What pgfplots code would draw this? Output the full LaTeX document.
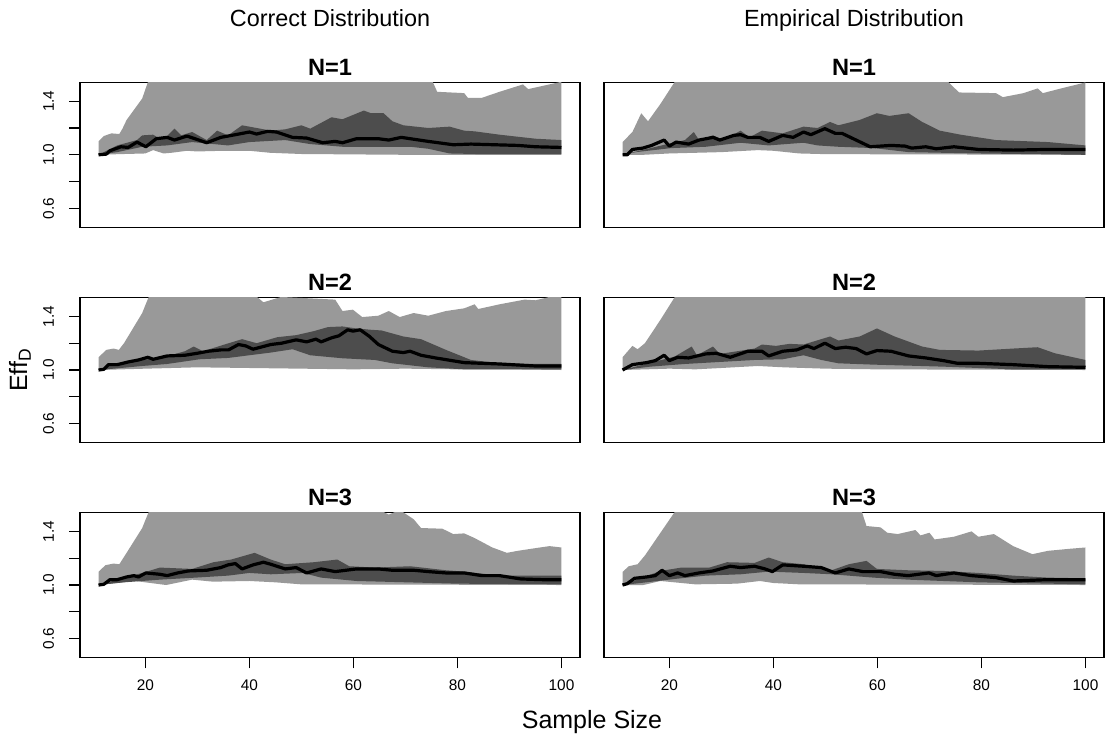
\documentclass[border=0pt]{standalone}
\usepackage{fontspec}
\setmainfont{Liberation Sans}
\usepackage{pgfplots}
\pgfplotsset{compat=1.18}
\definecolor{outerband}{RGB}{153,153,153}
\definecolor{innerband}{RGB}{77,77,77}

\pgfplotsset{
  effpanel/.style={
    scale only axis, width=250pt, height=72.4pt,
    xmin=7.44, xmax=103.56, ymin=0.46, ymax=1.54,
    axis line style={line width=0.6pt},
    tick pos=left, tick align=outside,
    major tick length=5.5pt,
    tick style={line width=0.6pt, black},
    xtick=\empty, ytick=\empty,
    title style={font=\bfseries\fontsize{11.8}{13}\selectfont, at={(0.5,1)}, anchor=base, yshift=-2.5pt},
    ticklabel style={font=\fontsize{7.7}{9}\selectfont},
    anchor=north west,
  },
  leftcol/.style={ytick={0.6,0.8,1.0,1.2,1.4}, yticklabels={0.6,,1.0,,1.4},
    yticklabel style={rotate=90, anchor=south}, yticklabel shift=4pt},
  bottomrow/.style={xtick={20,40,60,80,100}, xticklabels={20,40,60,80,100},
    xticklabel shift=2pt},
  outer/.style={fill=outerband, draw=none},
  inner/.style={fill=innerband, draw=none},
  median/.style={black, line width=1.6pt, line join=round},
}

\begin{document}
\begin{tikzpicture}
\path[use as bounding box] (0,0) rectangle (553.5pt,-372.5pt);

% Correct, N=1
\begin{axis}[effpanel, leftcol, at={(40pt,-41.2pt)}, title={N=1}]
\addplot[outer] coordinates {(11,1.10) (12,1.14) (13.5,1.16) (15,1.155) (15.6,1.195) (16.4,1.26) (19.4,1.42) (21,1.60) (30,1.80) (60,1.80) (74,1.62) (75.3,1.54) (76.1,1.47) (81.3,1.46) (82,1.425) (84.7,1.425) (88.1,1.47) (92.6,1.525) (93.6,1.49) (100,1.545) (100,1.0) (70,1.0) (60,1.003) (50,1.006) (44,1.015) (40,1.03) (35,1.03) (30,1.025) (28,1.03) (25,1.015) (23.5,1.01) (21.5,1.035) (20,1.01) (15,1.005) (11,1.0)} -- cycle;
\addplot[inner] coordinates {(11,1.0) (14.6,1.07) (18.4,1.11) (19.4,1.145) (21.5,1.15) (22.8,1.12) (24.2,1.14) (25.6,1.195) (26.9,1.145) (29,1.17) (31.8,1.11) (33.8,1.18) (35.9,1.145) (38.6,1.22) (41.4,1.20) (44.1,1.18) (46.9,1.19) (50,1.22) (51.7,1.195) (55.8,1.28) (57.9,1.265) (62,1.33) (63.4,1.31) (65.8,1.31) (67.5,1.25) (69.6,1.22) (74.4,1.20) (78.5,1.21) (81.3,1.18) (83.3,1.175) (88.1,1.15) (95,1.12) (100,1.11) (100,1.005) (84.7,1.005) (78.5,1.01) (74.4,1.045) (70.9,1.06) (63.4,1.06) (57.9,1.06) (51.7,1.08) (46.9,1.11) (40,1.095) (35.9,1.07) (29,1.095) (24.2,1.07) (19.4,1.06) (14.6,1.02) (11,1.0)} -- cycle;
\addplot[median] coordinates {(11,1.0) (12.5,1.005) (13.2,1.03) (15.3,1.06) (16.7,1.055) (18.4,1.095) (20.1,1.06) (22.1,1.12) (24.2,1.13) (25.6,1.11) (28,1.14) (31.8,1.09) (34.5,1.13) (37.3,1.15) (40,1.17) (41.4,1.155) (43.5,1.175) (45.2,1.17) (48.3,1.13) (51,1.125) (54.1,1.09) (56.5,1.10) (57.9,1.09) (60.6,1.12) (64.8,1.12) (66.8,1.11) (69.2,1.13) (74.4,1.10) (79.2,1.075) (82.6,1.08) (91.6,1.07) (95,1.06) (100,1.055)};
\end{axis}

% Empirical, N=1
\begin{axis}[effpanel, at={(302pt,-41.2pt)}, title={N=1}]
\addplot[outer] coordinates {(11,1.095) (12.9,1.17) (14.6,1.31) (15.9,1.25) (18.3,1.38) (21.3,1.56) (30,1.8) (60,1.8) (72.5,1.6) (73.7,1.54) (75.7,1.465) (82.8,1.46) (84.1,1.43) (88.1,1.46) (90.8,1.495) (91.8,1.46) (94.8,1.49) (100,1.54) (100,1.0) (50,1.005) (45,1.01) (40,1.03) (37,1.035) (30,1.02) (25,1.015) (20,1.01) (15,1.0) (11,1.0)} -- cycle;
\addplot[inner] coordinates {(11,1.0) (19.6,1.08) (23,1.11) (24.7,1.17) (25.7,1.11) (28.4,1.145) (30.4,1.11) (33.7,1.18) (35.4,1.13) (37.8,1.18) (41.8,1.16) (45.8,1.21) (48.5,1.20) (50.9,1.245) (52.5,1.22) (56.6,1.26) (59.9,1.31) (62.3,1.29) (66,1.31) (68.6,1.245) (72,1.18) (76,1.15) (82.8,1.11) (92.8,1.095) (100,1.07) (100,1.0) (79.4,1.01) (66,1.02) (59.3,1.05) (52.5,1.06) (48.5,1.07) (45.8,1.09) (39.1,1.07) (33.7,1.09) (27,1.06) (20.3,1.05) (13.6,1.02) (11,1.0)} -- cycle;
\addplot[median] coordinates {(11,1.0) (11.9,1.0) (12.9,1.04) (14.9,1.05) (16.6,1.07) (19,1.11) (20,1.065) (21.3,1.095) (23.7,1.08) (25.7,1.11) (28.4,1.13) (29.7,1.11) (32.4,1.145) (33.7,1.15) (35.1,1.13) (37.4,1.13) (39.1,1.10) (41.8,1.145) (43.8,1.13) (45.8,1.17) (47.2,1.15) (49.9,1.195) (51.9,1.16) (53.2,1.16) (55.9,1.11) (58.6,1.06) (62.6,1.07) (65.3,1.065) (66.6,1.05) (69.3,1.06) (71.3,1.045) (74.7,1.06) (79.4,1.04) (86.1,1.035) (92.8,1.04) (100,1.04)};
\end{axis}

% Correct, N=2
\begin{axis}[effpanel, leftcol, at={(40pt,-148.8pt)}, title={N=2}]
\addplot[outer] coordinates {(11,1.095) (12.5,1.15) (13.9,1.16) (14.9,1.15) (15.9,1.20) (19.4,1.425) (20.8,1.56) (30,1.8) (38,1.7) (41,1.56) (42.7,1.505) (46.1,1.545) (56.5,1.525) (57.9,1.44) (59.9,1.45) (61.7,1.395) (64.8,1.405) (66.8,1.44) (68.9,1.395) (71.6,1.425) (74.4,1.405) (77.8,1.44) (81.3,1.46) (83.3,1.49) (84,1.455) (88.1,1.49) (92.9,1.525) (95,1.52) (97.7,1.545) (100,1.55) (100,1.0) (90,1.005) (80,1.005) (70,1.01) (60,1.005) (50,1.01) (40,1.015) (30,1.02) (20,1.01) (11,1.0)} -- cycle;
\addplot[inner] coordinates {(11,1.0) (14.6,1.05) (19.4,1.075) (23.5,1.095) (27.6,1.14) (29.3,1.175) (31.1,1.14) (35.2,1.19) (38.6,1.23) (41.4,1.20) (45.4,1.245) (49,1.26) (52.4,1.29) (55.1,1.32) (57.9,1.325) (60.6,1.31) (63.4,1.30) (65.4,1.295) (69.6,1.25) (73,1.23) (77.8,1.15) (82.6,1.075) (88.1,1.05) (95,1.045) (100,1.045) (100,1.005) (81.3,1.005) (74.4,1.02) (67.5,1.05) (64.1,1.075) (57.9,1.0875) (51.7,1.11) (48.3,1.155) (44.1,1.13) (40,1.11) (35.9,1.09) (30.4,1.08) (24.2,1.045) (19.4,1.03) (13.9,1.01) (11,1.0)} -- cycle;
\addplot[median] coordinates {(11,1.0) (12,1.005) (12.9,1.04) (14.6,1.04) (16.7,1.06) (18.7,1.075) (20.5,1.095) (21.5,1.08) (24.2,1.105) (27.6,1.11) (30,1.125) (32.1,1.14) (34.5,1.15) (36,1.15) (37.9,1.19) (39.3,1.18) (40.7,1.155) (44.1,1.19) (46.2,1.20) (49,1.225) (51,1.21) (52.8,1.23) (53.8,1.21) (55.8,1.24) (57.2,1.255) (58.9,1.30) (59.9,1.29) (61.3,1.30) (63.1,1.25) (64.8,1.19) (67.5,1.14) (69.6,1.13) (70.9,1.14) (73,1.11) (75.8,1.09) (81.3,1.055) (88.1,1.045) (95,1.03) (100,1.03)};
\end{axis}

% Empirical, N=2
\begin{axis}[effpanel, at={(302pt,-148.8pt)}, title={N=2}]
\addplot[outer] coordinates {(11,1.095) (12.9,1.18) (13.9,1.155) (15.3,1.20) (18.3,1.375) (21.3,1.56) (30,1.8) (100,1.8) (100,1.0) (60,1.005) (50,1.01) (42,1.02) (37,1.03) (30,1.015) (25,1.005) (20,1.01) (11,1.0)} -- cycle;
\addplot[inner] coordinates {(11,1.0) (21,1.10) (24.3,1.175) (25.3,1.11) (28.4,1.175) (29.7,1.12) (36.4,1.16) (37.8,1.19) (40.5,1.18) (43.1,1.195) (45.8,1.19) (50.9,1.25) (52.5,1.22) (56.6,1.25) (59.9,1.31) (63.3,1.25) (68.6,1.175) (72,1.15) (79.4,1.145) (86.1,1.16) (90.8,1.17) (94.1,1.125) (100,1.075) (100,1.005) (86.1,1.005) (72.7,1.025) (59.3,1.04) (52.5,1.05) (49.2,1.075) (45.8,1.11) (41.8,1.08) (36.4,1.075) (29.7,1.06) (23,1.045) (16.3,1.025) (11,1.0)} -- cycle;
\addplot[median] coordinates {(11,1.0) (12.9,1.04) (15.6,1.055) (17.3,1.07) (19,1.11) (20,1.07) (21.6,1.095) (23.7,1.09) (27,1.12) (29,1.125) (31.7,1.095) (35.1,1.14) (37.8,1.14) (39.1,1.105) (41.8,1.14) (44.5,1.15) (46.5,1.18) (47.8,1.16) (49.9,1.20) (51.9,1.16) (53.9,1.17) (55.9,1.16) (57.9,1.12) (59.9,1.145) (62.6,1.14) (66,1.105) (69.3,1.09) (72.7,1.07) (75.4,1.05) (79.4,1.05) (86.1,1.04) (92.8,1.025) (100,1.02)};
\end{axis}

% Correct, N=3
\begin{axis}[effpanel, leftcol, bottomrow, at={(40pt,-256.3pt)}, title={N=3}]
\addplot[outer] coordinates {(11,1.0975) (12.3,1.1475) (13.9,1.16) (15,1.155) (16.4,1.24) (19.4,1.425) (20.8,1.56) (30,1.8) (60,1.8) (65.8,1.545) (66.8,1.525) (68.9,1.56) (71.6,1.49) (73,1.425) (77.1,1.42) (79.2,1.38) (81.3,1.385) (83.3,1.35) (86.7,1.28) (89.5,1.24) (91.6,1.255) (95,1.275) (97.7,1.29) (100,1.28) (100,1.0) (50,1.005) (45,1.02) (40,1.03) (33,1.025) (29,1.04) (24,1.0) (18,1.03) (11,1.0)} -- cycle;
\addplot[inner] coordinates {(11,1.0) (19.4,1.09) (22.8,1.13) (29,1.12) (33.1,1.17) (36.5,1.19) (41,1.24) (44.1,1.19) (46.9,1.155) (52.4,1.17) (56.9,1.19) (59.2,1.14) (64.1,1.13) (70.9,1.14) (77.8,1.11) (81.3,1.10) (88.1,1.07) (95,1.07) (100,1.07) (100,1.005) (80,1.01) (60.6,1.03) (53.8,1.055) (50.3,1.09) (44.1,1.08) (40,1.09) (35.9,1.07) (29.6,1.055) (22.8,1.04) (15.9,1.02) (11,1.0)} -- cycle;
\addplot[median] coordinates {(11,1.0) (12,1.005) (13.2,1.04) (14.6,1.04) (16.4,1.06) (17.8,1.07) (18.7,1.06) (20.1,1.09) (22.8,1.08) (24.2,1.07) (26.2,1.09) (28.3,1.105) (31.8,1.11) (34.5,1.13) (35.9,1.15) (37.3,1.16) (38.6,1.12) (40.7,1.15) (42.7,1.17) (44.1,1.155) (46.9,1.12) (49,1.13) (51,1.09) (53.8,1.12) (56.5,1.10) (60.6,1.12) (64.8,1.12) (67.5,1.11) (71.6,1.11) (74.4,1.10) (77.8,1.09) (81.3,1.09) (84.7,1.07) (88.1,1.07) (92.2,1.045) (96.3,1.04) (100,1.04)};
\end{axis}

% Empirical, N=3
\begin{axis}[effpanel, bottomrow, at={(302pt,-256.3pt)}, title={N=3}]
\addplot[outer] coordinates {(11,1.0975) (12.2,1.14) (13.9,1.155) (15.3,1.22) (18.3,1.39) (21.3,1.56) (30,1.8) (50,1.8) (56.9,1.56) (57.9,1.44) (60.6,1.43) (61.9,1.39) (63.9,1.38) (67.3,1.41) (68.3,1.37) (70,1.39) (71,1.34) (74.7,1.36) (78.1,1.40) (79.4,1.36) (82.4,1.38) (86.1,1.29) (89.8,1.23) (92.8,1.255) (96.9,1.27) (100,1.28) (100,1.0) (45,1.005) (40,1.015) (37.4,1.03) (33,1.01) (25,1.005) (18.3,1.03) (15,1.0) (11,1.0)} -- cycle;
\addplot[inner] coordinates {(11,1.0) (18.3,1.105) (22.3,1.13) (27.7,1.13) (31.1,1.17) (36.4,1.165) (39.1,1.205) (41.8,1.17) (45.8,1.155) (51.2,1.11) (54.5,1.155) (57.9,1.18) (59.9,1.12) (65.9,1.11) (72.7,1.105) (79.4,1.09) (86.1,1.07) (92.8,1.055) (100,1.05) (100,1.005) (79.4,1.02) (65.9,1.04) (59.3,1.055) (51.2,1.08) (45.8,1.09) (39.1,1.1) (33.7,1.08) (27,1.07) (21,1.045) (15.6,1.02) (11,1.0)} -- cycle;
\addplot[median] coordinates {(11,1.0) (11.9,1.01) (13.3,1.05) (15.6,1.06) (17.3,1.07) (18.6,1.11) (20,1.07) (21.6,1.09) (23,1.07) (25.7,1.09) (28.4,1.105) (31.7,1.14) (33.7,1.13) (36.4,1.14) (38.4,1.12) (39.8,1.10) (41.8,1.15) (45.8,1.14) (49.2,1.13) (51.9,1.09) (54.5,1.12) (57.2,1.10) (60.6,1.10) (63.3,1.08) (65.9,1.07) (69.9,1.09) (71.3,1.07) (74.7,1.09) (78.1,1.07) (82.8,1.055) (86.1,1.03) (92.8,1.04) (100,1.04)};
\end{axis}

\node[font=\fontsize{11.7}{13}\selectfont, anchor=base] at (165pt,-13.3pt) {Correct Distribution};
\node[font=\fontsize{11.7}{13}\selectfont, anchor=base] at (427pt,-13.3pt) {Empirical Distribution};
\node[font=\fontsize{12.5}{14}\selectfont, rotate=90] at (10pt,-185pt) {Eff\textsubscript{D}};
\node[font=\fontsize{12.5}{14}\selectfont] at (296pt,-361pt) {Sample Size};
\end{tikzpicture}
\end{document}
